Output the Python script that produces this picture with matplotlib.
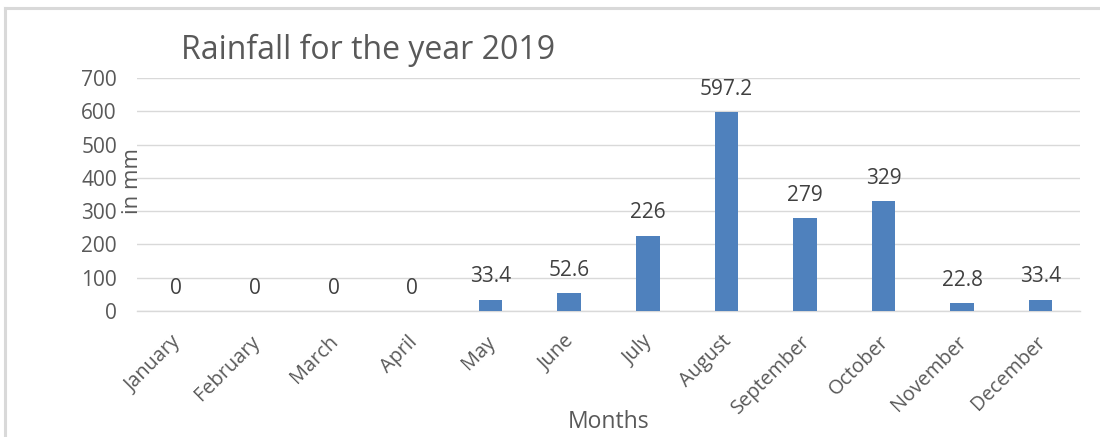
import matplotlib
matplotlib.use("Agg")
import matplotlib.pyplot as plt
import matplotlib.transforms as mtransforms

months = ["January", "February", "March", "April", "May", "June", "July",
          "August", "September", "October", "November", "December"]
rainfall = [0, 0, 0, 0, 33.4, 52.6, 226, 597.2, 279, 329, 22.8, 33.4]
value_labels = ["0", "0", "0", "0", "33.4", "52.6", "226", "597.2", "279", "329", "22.8", "33.4"]
y_ticks = [0, 100, 200, 300, 400, 500, 600, 700]

plt.rcParams["font.family"] = ["Open Sans", "DejaVu Sans"]

W, H = 1100, 437
fig = plt.figure(figsize=(W / 100, H / 100), dpi=100)
fig.patch.set_facecolor("white")

# light frame along the top and left edges
fig.add_artist(plt.Line2D([5 / W, 5 / W], [0, 1 - 8 / H], transform=fig.transFigure,
                          color="#D9D9D9", lw=2.2))
fig.add_artist(plt.Line2D([5 / W, 1], [1 - 8 / H, 1 - 8 / H], transform=fig.transFigure,
                          color="#D9D9D9", lw=2.2))

left, right, top, bottom = 137, 1080, 78, 311
ax = fig.add_axes([left / W, 1 - bottom / H, (right - left) / W, (bottom - top) / H])

x = list(range(len(months)))
bars = ax.bar(x, rainfall, width=0.3, color="#4F81BD", zorder=3)

ax.set_xlim(-0.5, len(months) - 0.5)
ax.set_ylim(0, 700)
ax.set_yticks(y_ticks)
ax.set_yticklabels([str(v) for v in y_ticks])
ax.yaxis.grid(True, color="#D9D9D9", lw=1.0, zorder=0)
ax.set_axisbelow(True)

for s in ["top", "right", "left"]:
    ax.spines[s].set_visible(False)
ax.spines["bottom"].set_color("#D9D9D9")
ax.spines["bottom"].set_linewidth(1.0)

ax.tick_params(axis="y", length=0, pad=20 * 0.72, labelsize=15, labelcolor="#595959")
ax.tick_params(axis="x", length=0, pad=15, labelsize=14.3, labelcolor="#595959")

ax.set_xticks(x)
ax.set_xticklabels(months)
offset = mtransforms.ScaledTranslation(-5 / 100, 0, fig.dpi_scale_trans)
for lab in ax.get_xticklabels():
    lab.set_rotation(45)
    lab.set_ha("right")
    lab.set_va("top")
    lab.set_rotation_mode("anchor")
    lab.set_transform(lab.get_transform() + offset)

# value labels above each bar
for xi, v, txt in zip(x, rainfall, value_labels):
    ax.annotate(txt, (xi, v), xytext=(0, 23 * 0.72), textcoords="offset points",
                ha="center", va="center", fontsize=15, color="#404040")

fig.text(181 / W, 1 - 59 / H, "Rainfall for the year 2019", ha="left", va="baseline",
         fontsize=23, color="#595959")
fig.text(132 / W, 1 - 181 / H, "in mm", rotation=90, ha="center", va="center",
         fontsize=16, color="#595959")
fig.text(609 / W, 1 - 422 / H, "Months", ha="center", va="center",
         fontsize=16.5, color="#595959")

fig.savefig("out.png", dpi=100, facecolor="white")
